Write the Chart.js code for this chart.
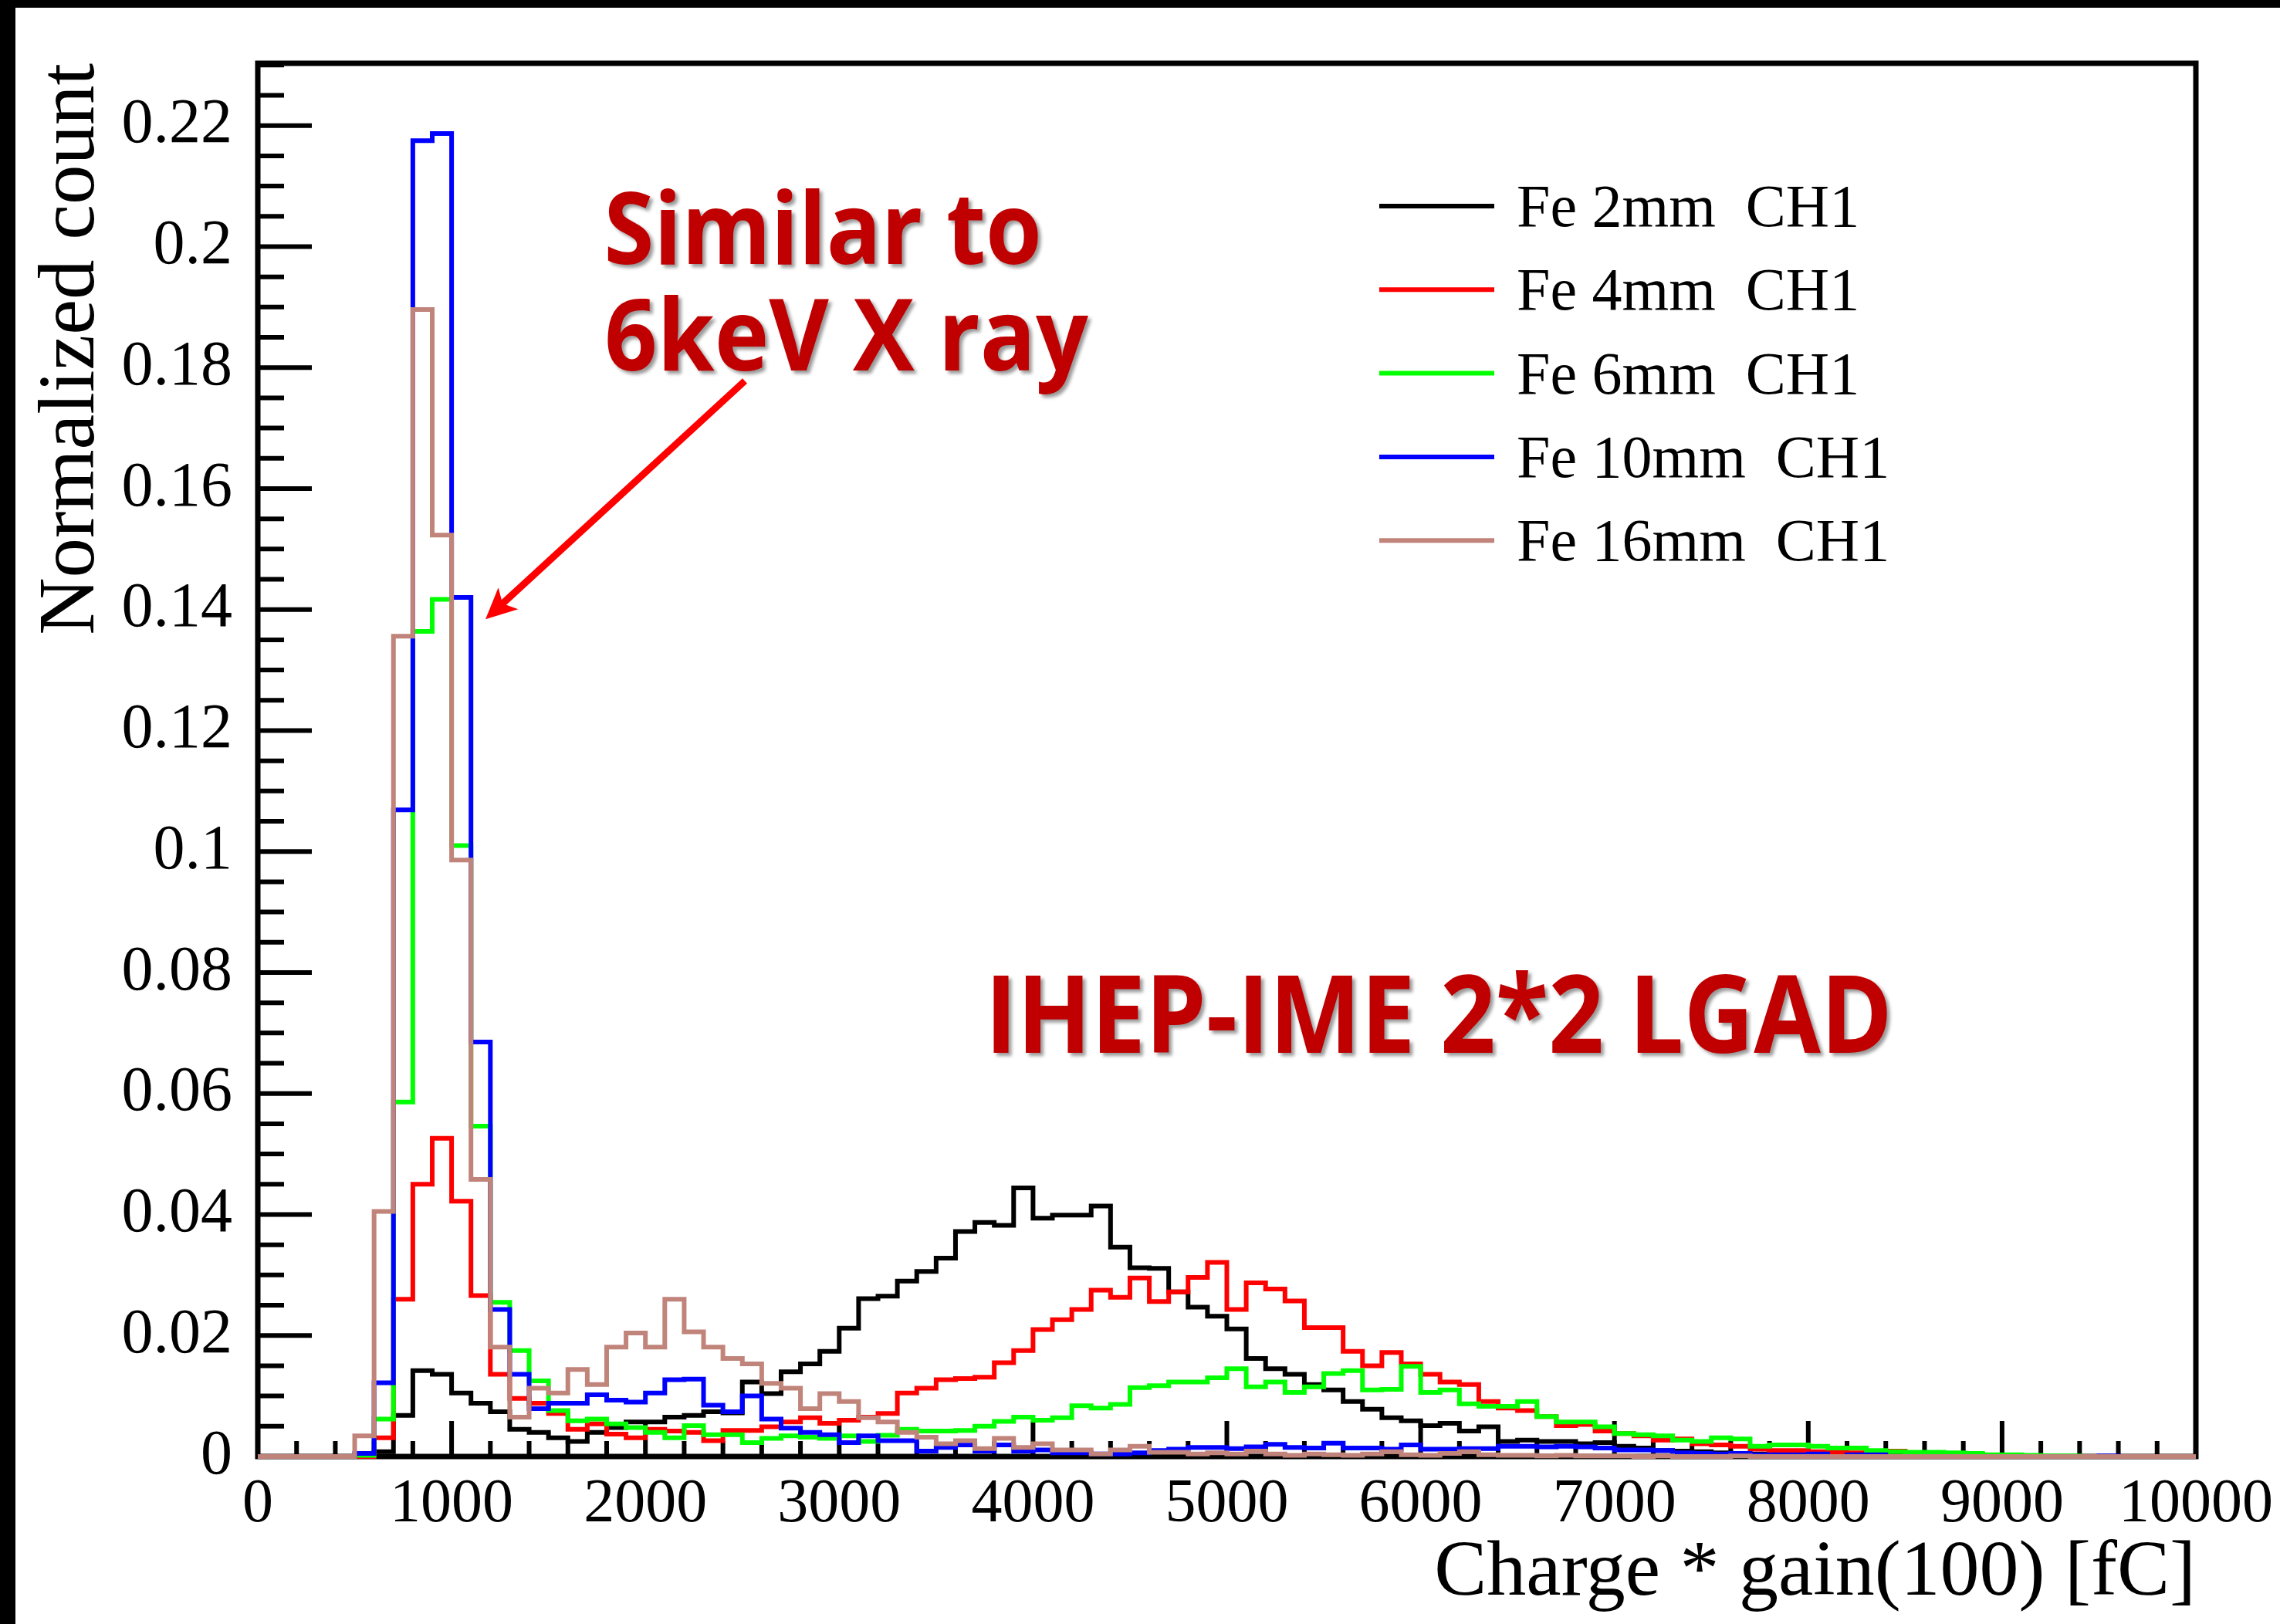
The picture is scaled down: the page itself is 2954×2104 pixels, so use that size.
<!DOCTYPE html>
<html>
<head>
<meta charset="utf-8">
<title>IHEP-IME 2*2 LGAD charge spectra</title>
<script src="https://cdn.jsdelivr.net/npm/chart.js@4.4.1/dist/chart.umd.min.js"></script>
<style>
  html, body { margin: 0; padding: 0; background: #000; overflow: hidden; }
  #wrap { position: absolute; left: 20px; top: 10px; width: 2934px; height: 2094px; background: #fff; }
</style>
</head>
<body>
<div id="wrap"><canvas id="charge-chart"></canvas></div>
<script>
// 100 bins of 100 fC, 0 .. 10000 fC
const binWidth = 100;

const fe2mm = [
  0, 0, 0, 0, 0, 0, 0.0008, 0.0068, 0.0142, 0.0136,
  0.0105, 0.0088, 0.0074, 0.0045, 0.0040, 0.0031, 0.0025, 0.0040, 0.0048, 0.0057,
  0.0057, 0.0065, 0.0068, 0.0074, 0.0072, 0.0123, 0.0104, 0.0140, 0.0153, 0.0174,
  0.0212, 0.0261, 0.0265, 0.0290, 0.0306, 0.0328, 0.0372, 0.0387, 0.0382, 0.0444,
  0.0394, 0.0399, 0.0399, 0.0414, 0.0346, 0.0312, 0.0311, 0.0272, 0.0247, 0.0232,
  0.0211, 0.0162, 0.0145, 0.0136, 0.0119, 0.0110, 0.0091, 0.0078, 0.0064, 0.0059,
  0.0051, 0.0055, 0.0042, 0.0049, 0.0025, 0.0027, 0.0025, 0.0025, 0.0021, 0.0023,
  0.0017, 0.0014, 0.0010, 0.0009, 0.0008, 0.0006, 0.0005, 0.0004, 0.0003, 0.0003,
  0.0002, 0.0002, 0.0001, 0.0002, 0.0001, 0, 0, 0, 0, 0,
  0, 0, 0, 0, 0, 0, 0, 0, 0, 0,
];

const fe4mm = [
  0, 0, 0, 0, 0, 0, 0.0031, 0.0260, 0.0450, 0.0526,
  0.0422, 0.0266, 0.0136, 0.0096, 0.0088, 0.0071, 0.0045, 0.0054, 0.0037, 0.0031,
  0.0045, 0.0042, 0.0040, 0.0026, 0.0043, 0.0043, 0.0049, 0.0057, 0.0064, 0.0055,
  0.0060, 0.0065, 0.0071, 0.0105, 0.0113, 0.0127, 0.0129, 0.0131, 0.0155, 0.0175,
  0.0210, 0.0226, 0.0243, 0.0275, 0.0263, 0.0295, 0.0256, 0.0272, 0.0296, 0.0321,
  0.0243, 0.0287, 0.0277, 0.0257, 0.0213, 0.0213, 0.0174, 0.0150, 0.0172, 0.0153,
  0.0136, 0.0123, 0.0119, 0.0091, 0.0080, 0.0076, 0.0066, 0.0051, 0.0053, 0.0042,
  0.0038, 0.0034, 0.0027, 0.0029, 0.0021, 0.0019, 0.0017, 0.0012, 0.0010, 0.0010,
  0.0008, 0.0007, 0.0006, 0.0008, 0.0009, 0.0006, 0.0004, 0.0003, 0.0002, 0.0002,
  0.0001, 0.0001, 0, 0, 0, 0, 0, 0, 0, 0,
];

const fe6mm = [
  0, 0, 0, 0, 0, 0.0002, 0.0062, 0.0586, 0.1364, 0.1417,
  0.1010, 0.0546, 0.0255, 0.0175, 0.0125, 0.0076, 0.0059, 0.0062, 0.0054, 0.0048,
  0.0040, 0.0031, 0.0051, 0.0036, 0.0036, 0.0023, 0.0030, 0.0034, 0.0032, 0.0030,
  0.0034, 0.0025, 0.0035, 0.0045, 0.0042, 0.0042, 0.0043, 0.0050, 0.0058, 0.0065,
  0.0060, 0.0064, 0.0084, 0.0080, 0.0086, 0.0114, 0.0117, 0.0123, 0.0123, 0.0130,
  0.0145, 0.0115, 0.0123, 0.0106, 0.0115, 0.0137, 0.0142, 0.0110, 0.0111, 0.0149,
  0.0106, 0.0110, 0.0087, 0.0083, 0.0083, 0.0091, 0.0066, 0.0057, 0.0057, 0.0049,
  0.0038, 0.0036, 0.0034, 0.0027, 0.0025, 0.0031, 0.0029, 0.0017, 0.0019, 0.0019,
  0.0017, 0.0014, 0.0014, 0.0010, 0.0008, 0.0007, 0.0007, 0.0006, 0.0005, 0.0003,
  0.0003, 0.0002, 0.0001, 0.0001, 0, 0, 0, 0, 0, 0,
];

const fe10mm = [
  0, 0, 0, 0, 0, 0.0005, 0.0122, 0.1069, 0.2175, 0.2187,
  0.1420, 0.0685, 0.0243, 0.0136, 0.0079, 0.0088, 0.0088, 0.0102, 0.0093, 0.0090,
  0.0105, 0.0127, 0.0128, 0.0085, 0.0074, 0.0100, 0.0062, 0.0047, 0.0040, 0.0036,
  0.0023, 0.0034, 0.0026, 0.0026, 0.0009, 0.0015, 0.0019, 0.0009, 0.0019, 0.0009,
  0.0011, 0.0006, 0.0006, 0.0004, 0.0004, 0.0006, 0.0010, 0.0012, 0.0015, 0.0015,
  0.0013, 0.0016, 0.0020, 0.0015, 0.0014, 0.0022, 0.0014, 0.0014, 0.0012, 0.0019,
  0.0012, 0.0012, 0.0013, 0.0013, 0.0017, 0.0017, 0.0016, 0.0017, 0.0016, 0.0014,
  0.0011, 0.0011, 0.0010, 0.0006, 0.0005, 0.0004, 0.0005, 0.0003, 0.0003, 0.0003,
  0.0004, 0, 0.0003, 0.0003, 0, 0, 0, 0, 0, 0,
  0, 0, 0, 0, 0, 0.0001, 0, 0, 0, 0,
];

const fe16mm = [
  0, 0, 0, 0, 0, 0.0034, 0.0405, 0.1356, 0.1896, 0.1523,
  0.0986, 0.0458, 0.0181, 0.0065, 0.0113, 0.0105, 0.0144, 0.0119, 0.0181, 0.0204,
  0.0181, 0.0260, 0.0206, 0.0181, 0.0162, 0.0153, 0.0121, 0.0113, 0.0079, 0.0104,
  0.0091, 0.0064, 0.0057, 0.0040, 0.0032, 0.0021, 0.0026, 0.0013, 0.0030, 0.0015,
  0.0021, 0.0011, 0.0011, 0.0004, 0.0011, 0.0017, 0.0007, 0.0007, 0.0004, 0.0006,
  0.0004, 0.0009, 0.0004, 0.0002, 0.0004, 0.0003, 0.0002, 0.0004, 0.0008, 0.0003,
  0.0002, 0.0005, 0.0008, 0.0003, 0.0002, 0.0002, 0.0001, 0.0002, 0.0001, 0.0001,
  0.0001, 0, 0.0001, 0, 0, 0, 0.0001, 0, 0, 0,
  0, 0, 0, 0, 0, 0, 0, 0, 0, 0,
  0, 0, 0, 0, 0, 0, 0, 0, 0, 0,
];

const seriesLabels = ["Fe 2mm  CH1", "Fe 4mm  CH1", "Fe 6mm  CH1", "Fe 10mm  CH1", "Fe 16mm  CH1"];
const seriesValues = [fe2mm, fe4mm, fe6mm, fe10mm, fe16mm];
const seriesColors = ["#000000", "#ff0000", "#00ff00", "#0000ff", "rgb(192,132,122)"];

const xRange = [0, 10000];
const yRange = [0, 0.2303];

const serif = "'Liberation Serif', 'Times New Roman', serif";
const darkRed = "#c00000";

document.addEventListener("DOMContentLoaded", function () {
  // histogram outline: one point per lower bin edge, plus the closing edge
  function histogramPoints(values) {
    const pts = values.map((v, i) => ({ x: i * binWidth, y: v }));
    pts.push({ x: values.length * binWidth, y: values[values.length - 1] });
    return pts;
  }

  // ROOT style frame with inward ticks on the left and bottom axes
  const rootFrame = {
    id: "rootFrame",
    beforeDatasetsDraw(chart) {
      const { ctx, chartArea: a, scales: { x, y } } = chart;
      ctx.save();
      ctx.strokeStyle = "#000";
      ctx.lineWidth = 7;
      ctx.strokeRect(a.left, a.top, a.right - a.left, a.bottom - a.top);

      ctx.lineWidth = 6;
      ctx.beginPath();
      for (let k = 0; k * 200 <= x.max; k++) {
        const px = x.getPixelForValue(k * 200);
        const len = k % 5 === 0 ? 46 : 20;
        ctx.moveTo(px, a.bottom);
        ctx.lineTo(px, a.bottom - len);
      }
      for (let k = 0; k * 0.005 <= y.max + 1e-9; k++) {
        const py = y.getPixelForValue(k * 0.005);
        const len = k % 4 === 0 ? 70 : 34;
        ctx.moveTo(a.left, py);
        ctx.lineTo(a.left + len, py);
      }
      ctx.stroke();
      ctx.restore();
    },
  };

  // legend box in the upper right, no border
  const rootLegend = {
    id: "rootLegend",
    afterDraw(chart) {
      const { ctx } = chart;
      ctx.save();
      ctx.font = "78px " + serif;
      ctx.textBaseline = "alphabetic";
      chart.data.datasets.forEach((ds, i) => {
        const yy = 257 + i * 108.3;
        ctx.strokeStyle = ds.borderColor;
        ctx.lineWidth = 6;
        ctx.beginPath();
        ctx.moveTo(1767, yy);
        ctx.lineTo(1916, yy);
        ctx.stroke();
        ctx.fillStyle = "#000";
        ctx.fillText(ds.label, 1945, yy + 26);
      });
      ctx.restore();
    },
  };

  // text stretched horizontally to fit between two x values
  function fittedText(ctx, text, left, right, baseline, size) {
    ctx.font = "bold " + size + "px 'Open Sans', 'DejaVu Sans', sans-serif";
    const m = ctx.measureText(text);
    const ink = m.actualBoundingBoxLeft + m.actualBoundingBoxRight;
    const sx = (right - left) / ink;
    ctx.save();
    ctx.translate(left + m.actualBoundingBoxLeft * sx, baseline);
    ctx.scale(sx, 1);
    ctx.fillText(text, 0, 0);
    ctx.restore();
  }

  const notes = [
    { text: "Similar to", from: 1804, to: 4026, base: 0.1971, size: 130 },
    { text: "6keV X ray", from: 1804, to: 4285, base: 0.1795, size: 130 },
    { text: "IHEP-IME 2*2 LGAD", from: 3795, to: 8407, base: 0.0667, size: 140 },
  ];
  const arrow = { tail: [2513, 0.1778], tip: [1175, 0.1384] };

  const annotations = {
    id: "annotations",
    afterDraw(chart) {
      const { ctx, scales: { x, y } } = chart;

      // arrow pointing at the 6 keV peak
      const x0 = x.getPixelForValue(arrow.tail[0]);
      const y0 = y.getPixelForValue(arrow.tail[1]);
      const x1 = x.getPixelForValue(arrow.tip[0]);
      const y1 = y.getPixelForValue(arrow.tip[1]);
      const ang = Math.atan2(y1 - y0, x1 - x0);
      const c = Math.cos(ang), s = Math.sin(ang);
      const headLen = 40, headHalf = 19;
      ctx.save();
      ctx.strokeStyle = "#ff0000";
      ctx.fillStyle = "#ff0000";
      ctx.lineWidth = 9;
      ctx.beginPath();
      ctx.moveTo(x0, y0);
      ctx.lineTo(x1 - headLen * 0.7 * c, y1 - headLen * 0.7 * s);
      ctx.stroke();
      const bx = x1 - headLen * c, by = y1 - headLen * s;
      ctx.beginPath();
      ctx.moveTo(x1, y1);
      ctx.lineTo(bx + headHalf * s, by - headHalf * c);
      ctx.lineTo(x1 - headLen * 0.75 * c, y1 - headLen * 0.75 * s);
      ctx.lineTo(bx - headHalf * s, by + headHalf * c);
      ctx.closePath();
      ctx.fill();
      ctx.restore();

      ctx.save();
      ctx.fillStyle = darkRed;
      ctx.shadowColor = "rgba(0,0,0,0.4)";
      ctx.shadowOffsetX = 4;
      ctx.shadowOffsetY = 4;
      ctx.shadowBlur = 4;
      notes.forEach((n) => {
        fittedText(ctx, n.text, x.getPixelForValue(n.from), x.getPixelForValue(n.to),
          y.getPixelForValue(n.base), n.size);
      });
      ctx.restore();
    },
  };

  const ctx = document.getElementById("charge-chart").getContext("2d");
  new Chart(ctx, {
    type: "line",
    data: {
      datasets: seriesValues.map((vals, i) => ({
        label: seriesLabels[i],
        data: histogramPoints(vals),
        borderColor: seriesColors[i],
        borderWidth: 6,
        stepped: "before",
        pointRadius: 0,
        fill: false,
        clip: 8,
        order: seriesValues.length - i,
      })),
    },
    options: {
      responsive: true,
      maintainAspectRatio: false,
      animation: false,
      devicePixelRatio: 1,
      layout: { padding: { left: 0, top: 72, right: 109, bottom: 0 } },
      plugins: {
        legend: { display: false },
        tooltip: { enabled: false },
      },
      events: [],
      scales: {
        x: {
          type: "linear",
          min: xRange[0],
          max: xRange[1],
          grid: { display: false, drawTicks: false },
          border: { display: false },
          ticks: {
            stepSize: 1000,
            autoSkip: false,
            maxRotation: 0,
            padding: 15,
            color: "#000",
            font: { family: serif, size: 80 },
            callback: (v) => String(v),
          },
          title: {
            display: true,
            text: "Charge * gain(100) [fC]",
            align: "end",
            color: "#000",
            font: { family: serif, size: 102 },
            padding: { top: 0, bottom: 4 },
          },
          afterFit(scale) {
            scale.height = 217;
            scale.paddingLeft = 0;
            scale.paddingRight = 0;
          },
        },
        y: {
          type: "linear",
          min: yRange[0],
          max: yRange[1],
          grid: { display: false, drawTicks: false },
          border: { display: false },
          ticks: {
            stepSize: 0.02,
            includeBounds: false,
            padding: 33,
            color: "#000",
            font: { family: serif, size: 82 },
            callback: (v) => String(parseFloat(v.toFixed(3))),
          },
          title: {
            display: true,
            text: "Normalized count",
            align: "end",
            color: "#000",
            font: { family: serif, size: 103 },
            padding: { top: 12, bottom: 0 },
          },
          afterFit(scale) {
            scale.width = 314;
            scale.paddingTop = 0;
            scale.paddingBottom = 0;
          },
        },
      },
    },
    plugins: [rootFrame, rootLegend, annotations],
  });
});
</script>
</body>
</html>
